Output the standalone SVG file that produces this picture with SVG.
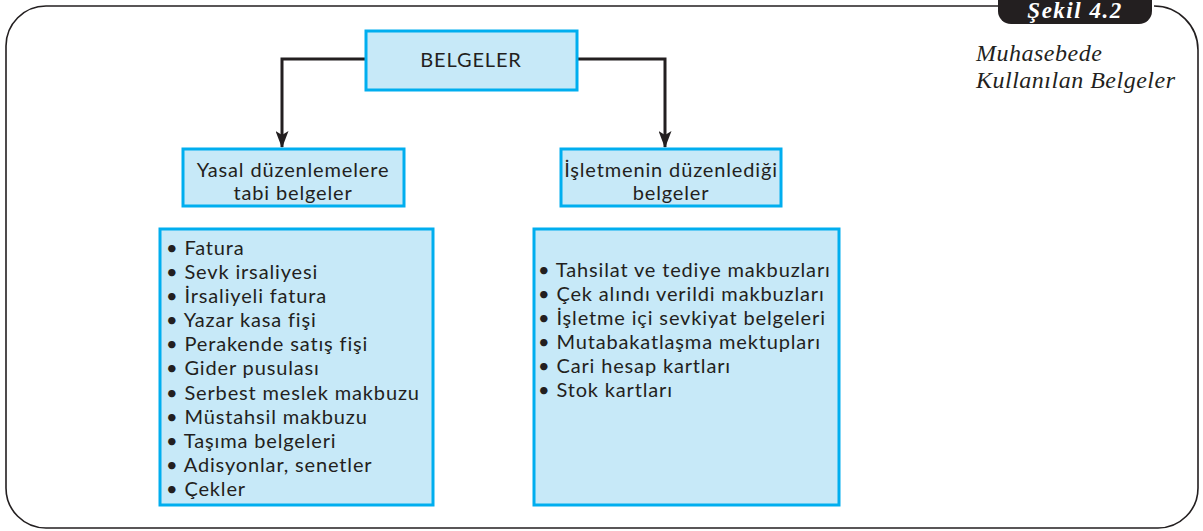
<svg xmlns="http://www.w3.org/2000/svg" width="1203" height="531" viewBox="0 0 1203 531">
<defs>
<style>
.box{fill:#c7e9f8;stroke:#00aeef;stroke-width:3}
.t{font-family:Lato,"Open Sans","Liberation Sans",sans-serif;font-size:20px;letter-spacing:0.85px;fill:#231f20}
.c{text-anchor:middle}
.conn{fill:none;stroke:#231f20;stroke-width:3}
.sub{font-family:"Liberation Serif",serif;font-style:italic;font-size:24px;letter-spacing:0.5px;fill:#231f20}
</style>
<marker id="ah" markerWidth="17" markerHeight="13" refX="16" refY="6.5" orient="auto" markerUnits="userSpaceOnUse" viewBox="0 0 17 13">
<path d="M0,0 L17,6.5 L0,13 L4,6.5 Z" fill="#231f20"/>
</marker>
</defs>
<rect width="1203" height="531" fill="#fff"/>
<g id="frame">
<path d="M998,6 H46 A40,40 0 0 0 6,46 V488 A40,40 0 0 0 46,528 H1158 A40,40 0 0 0 1198,488 V50 A44,44 0 0 0 1154,6" fill="none" stroke="#231f20" stroke-width="1.6"/>
<path d="M998,-2 H1152 V11 A13,13 0 0 1 1139,24 H1011 A13,13 0 0 1 998,11 Z" fill="#231f20"/>
<text x="1075" y="18" text-anchor="middle" font-family="Liberation Serif,serif" font-style="italic" font-weight="bold" font-size="23" letter-spacing="1.5" fill="#fff">Şekil 4.2</text>
<text class="sub" x="976" y="61">Muhasebede</text>
<text class="sub" x="976" y="88">Kullanılan Belgeler</text>
</g>
<g id="connectors">
<path class="conn" d="M366,59 H282 V147" marker-end="url(#ah)"/>
<path class="conn" d="M577,59 H665 V147" marker-end="url(#ah)"/>
</g>
<g id="belgeler">
<rect class="box" x="366" y="31" width="211" height="59"/>
<text class="t c" x="471" y="67" letter-spacing="1.1">BELGELER</text>
</g>
<g id="yasal">
<rect class="box" x="183" y="149" width="221" height="57"/>
<text class="t c" x="293" y="177" letter-spacing="1">Yasal düzenlemelere</text>
<text class="t c" x="293" y="200" letter-spacing="1">tabi belgeler</text>
</g>
<g id="isletme">
<rect class="box" x="561" y="149" width="220" height="57"/>
<text class="t c" x="671" y="177" letter-spacing="1">İşletmenin düzenlediği</text>
<text class="t c" x="671" y="200" letter-spacing="1">belgeler</text>
</g>
<g id="yasal-list">
<rect class="box" x="160" y="229" width="273" height="276"/>
<text class="t" x="166" y="255">• Fatura</text>
<text class="t" x="166" y="279">• Sevk irsaliyesi</text>
<text class="t" x="166" y="303">• İrsaliyeli fatura</text>
<text class="t" x="166" y="327">• Yazar kasa fişi</text>
<text class="t" x="166" y="351">• Perakende satış fişi</text>
<text class="t" x="166" y="375">• Gider pusulası</text>
<text class="t" x="166" y="400">• Serbest meslek makbuzu</text>
<text class="t" x="166" y="424">• Müstahsil makbuzu</text>
<text class="t" x="166" y="448">• Taşıma belgeleri</text>
<text class="t" x="166" y="472">• Adisyonlar, senetler</text>
<text class="t" x="166" y="496">• Çekler</text>
</g>
<g id="isletme-list">
<rect class="box" x="534" y="229" width="305" height="276"/>
<text class="t" x="538" y="277">• Tahsilat ve tediye makbuzları</text>
<text class="t" x="538" y="301">• Çek alındı verildi makbuzları</text>
<text class="t" x="538" y="325">• İşletme içi sevkiyat belgeleri</text>
<text class="t" x="538" y="349">• Mutabakatlaşma mektupları</text>
<text class="t" x="538" y="373">• Cari hesap kartları</text>
<text class="t" x="538" y="397">• Stok kartları</text>
</g>
</svg>
